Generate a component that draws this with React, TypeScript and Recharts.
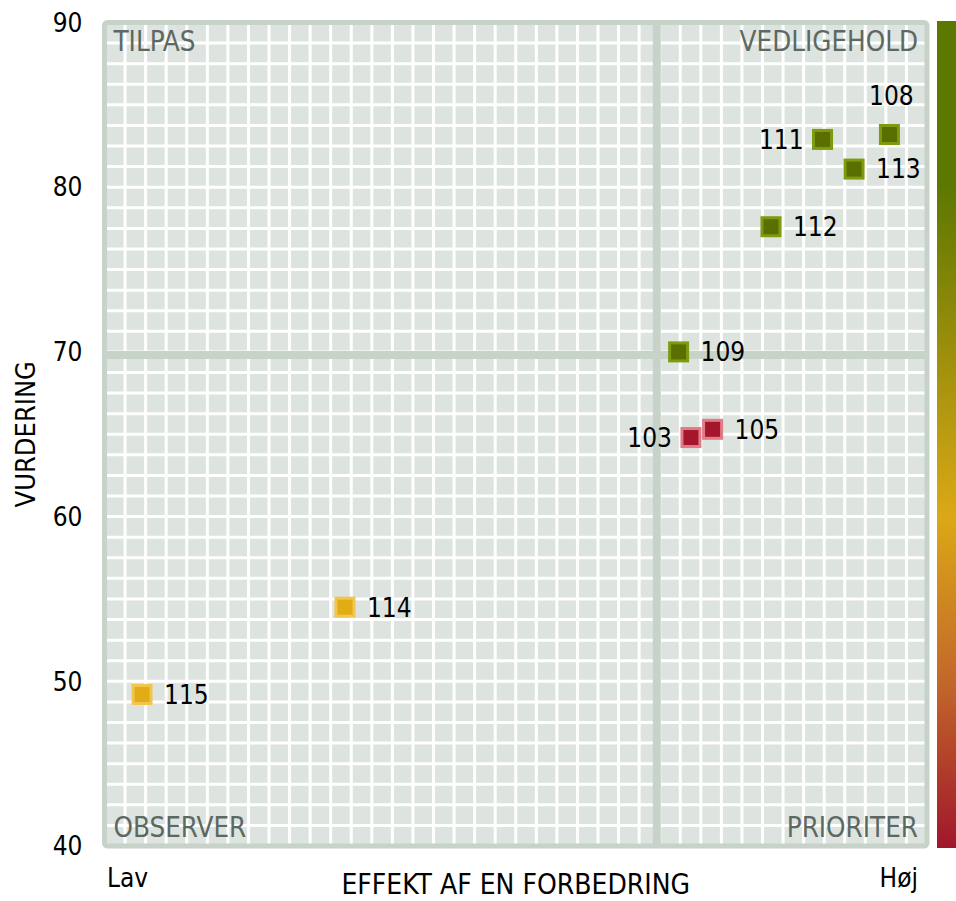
import {
  ScatterChart,
  Scatter,
  XAxis,
  YAxis,
  CartesianGrid,
  ReferenceLine,
  ReferenceArea,
  Label,
} from "recharts";

// Points: id, effect (x, Lav..Høj scale 0-3) and rating (y)
const ids = ["108", "111", "113", "112", "109", "103", "105", "114", "115"];
const effect = [2.863, 2.619, 2.734, 2.431, 2.094, 2.139, 2.218, 0.877, 0.137];
const rating = [83.2, 82.9, 81.1, 77.6, 70.0, 64.8, 65.3, 54.5, 49.2];
const status = ["god", "god", "god", "god", "god", "kritisk", "kritisk", "middel", "middel"];

const yTicks = [40, 50, 60, 70, 80, 90];
const xTicks = [0, 3];
const xTickLabels = ["Lav", "Høj"];

const quadrants = [
  { name: "TILPAS", x1: 0, x2: 2, y1: 70, y2: 90, pos: "insideTopLeft" },
  { name: "VEDLIGEHOLD", x1: 2, x2: 3, y1: 70, y2: 90, pos: "insideTopRight" },
  { name: "OBSERVER", x1: 0, x2: 2, y1: 40, y2: 70, pos: "insideBottomLeft" },
  { name: "PRIORITER", x1: 2, x2: 3, y1: 40, y2: 70, pos: "insideBottomRight" },
];

const data = ids.map((id, i) => ({ id, x: effect[i], y: rating[i], status: status[i] }));

const FONT = "'DejaVu Sans Condensed', 'DejaVu Sans', sans-serif";

const C = {
  cell: "#dde3df",
  gridLine: "#ffffff",
  frame: "#c7d2c9",
  quad: "#5c6862",
  text: "#000000",
};

const STATUS_COLORS: Record<string, { fill: string; stroke: string }> = {
  god: { fill: "#5b6e00", stroke: "#7d9b0e" },
  kritisk: { fill: "#a3162b", stroke: "#e27b87" },
  middel: { fill: "#e2ac16", stroke: "#f2c64d" },
};

// where the id label sits relative to its marker (default: right)
const LABEL_SIDE: Record<string, string> = { "108": "top", "111": "left", "103": "left" };

function Marker(props: any) {
  const { cx, cy, payload } = props;
  if (cx == null || cy == null) return null;
  const col = STATUS_COLORS[payload.status];
  const side = LABEL_SIDE[payload.id] ?? "right";
  let tx = cx + 22;
  let ty = cy;
  let anchor = "start";
  if (side === "left") {
    tx = cx - 19;
    anchor = "end";
  } else if (side === "top") {
    tx = cx + 2;
    ty = cy - 39;
    anchor = "middle";
  }
  return (
    <g>
      <rect x={cx - 9} y={cy - 9} width={18} height={18} fill={col.fill} stroke={col.stroke} strokeWidth={3} />
      <text x={tx} y={ty} dy="0.36em" textAnchor={anchor} fontSize={26} fontFamily={FONT} fill={C.text}>
        {payload.id}
      </text>
    </g>
  );
}

function XTick(props: any) {
  const { x, y, payload } = props;
  const i = xTicks.indexOf(payload.value);
  const first = i === 0;
  return (
    <text
      x={first ? x + 2.5 : x - 9}
      y={y + 41}
      textAnchor={first ? "start" : "end"}
      fontSize={26}
      fontFamily={FONT}
      fill={C.text}
    >
      {xTickLabels[i]}
    </text>
  );
}

// dividers sit just right of / below their value
const divider = (dx: number, dy: number) => (p: any) => (
  <line
    x1={p.x1 + dx}
    y1={p.y1 + dy}
    x2={p.x2 + dx}
    y2={p.y2 + dy}
    stroke={C.frame}
    strokeWidth={8}
  />
);

const GRID_STEPS = 40;

export default function App() {
  return (
    <div style={{ position: "absolute", left: 0, top: 0, width: 956, height: 901, background: "#fff" }}>
      <ScatterChart
        width={956}
        height={901}
        margin={{ top: 22.5, right: 29, bottom: 0, left: 24.5 }}
      >
        <CartesianGrid
          fill={C.cell}
          stroke={C.gridLine}
          strokeWidth={3}
          horizontalCoordinatesGenerator={({ offset }: any) =>
            Array.from({ length: GRID_STEPS + 1 }, (_, i) => offset.top + (i * offset.height) / GRID_STEPS)
          }
          verticalCoordinatesGenerator={({ offset }: any) =>
            Array.from({ length: GRID_STEPS + 1 }, (_, i) => offset.left + (i * offset.width) / GRID_STEPS)
          }
        />
        <XAxis
          type="number"
          dataKey="x"
          domain={[0, 3]}
          ticks={xTicks}
          interval={0}
          height={55}
          axisLine={false}
          tickLine={false}
          tickSize={0}
          tickMargin={0}
          tick={<XTick />}
        >
          <Label
            value="EFFEKT AF EN FORBEDRING"
            position="insideBottom"
            offset={7}
            fill={C.text}
            fontSize={28}
            fontFamily={FONT}
          />
        </XAxis>
        <YAxis
          type="number"
          dataKey="y"
          domain={[40, 90]}
          ticks={yTicks}
          interval={0}
          width={80}
          axisLine={false}
          tickLine={false}
          tickSize={0}
          tickMargin={22}
          tick={{ fill: C.text, fontSize: 26, fontFamily: FONT }}
        >
          <Label
            value="VURDERING"
            position="insideLeft"
            angle={-90}
            offset={1}
            fill={C.text}
            fontSize={27}
            fontFamily={FONT}
            style={{ textAnchor: "middle" }}
          />
        </YAxis>
        <ReferenceLine x={2} shape={divider(4, 0)} />
        <ReferenceLine y={70} shape={divider(0, 3)} />
        <ReferenceArea
          x1={0}
          x2={3}
          y1={40}
          y2={90}
          fill="none"
          fillOpacity={0}
          stroke={C.frame}
          strokeWidth={5}
          strokeOpacity={1}
          radius={3}
        />
        {quadrants.map((q) => (
          <ReferenceArea
            key={q.name}
            x1={q.x1}
            x2={q.x2}
            y1={q.y1}
            y2={q.y2}
            fillOpacity={0}
            strokeOpacity={0}
            label={{
              value: q.name,
              position: q.pos,
              offset: 9,
              fill: C.quad,
              fontSize: 27.5,
              fontFamily: FONT,
            }}
          />
        ))}
        <Scatter data={data} shape={<Marker />} isAnimationActive={false} />
      </ScatterChart>
      <div
        style={{
          position: "absolute",
          left: 937,
          top: 21,
          width: 19,
          height: 827,
          background:
            "linear-gradient(to bottom, #5d7800 0%, #5d7800 20%, #9c8f0c 40%, #dba816 60%, #c2672a 80%, #a0172b 100%)",
        }}
      />
    </div>
  );
}
